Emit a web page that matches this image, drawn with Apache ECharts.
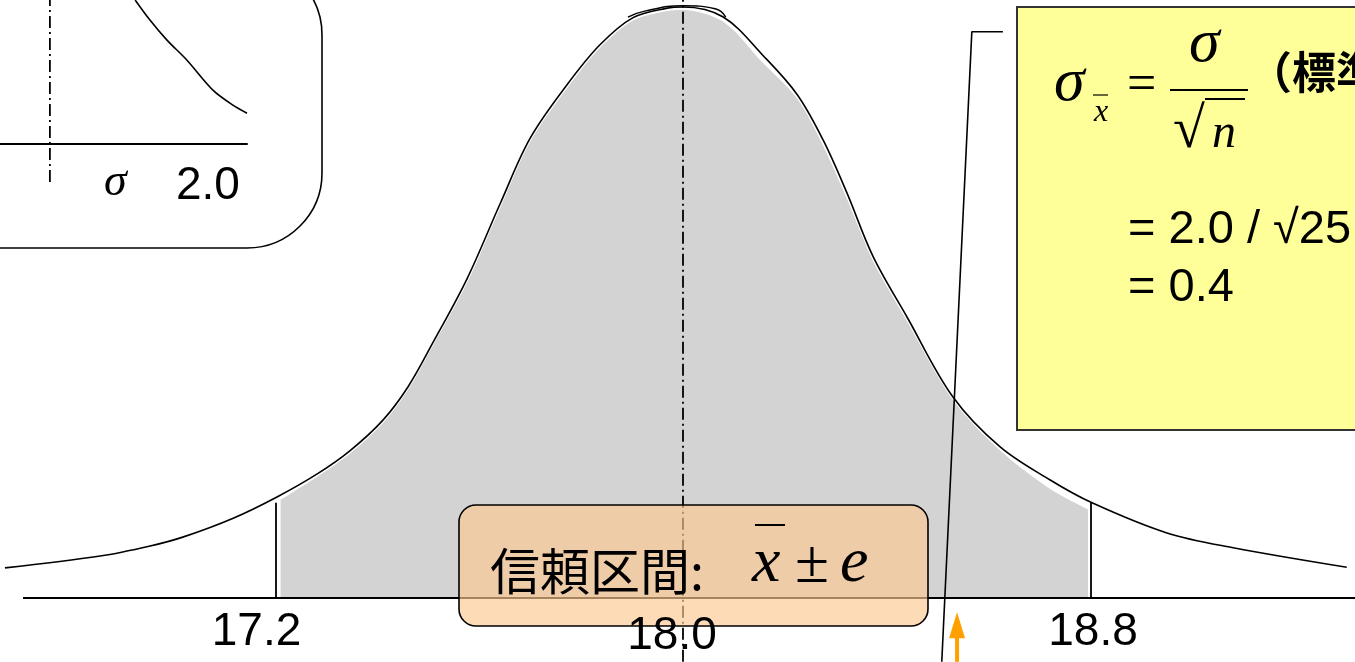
<!DOCTYPE html>
<html><head><meta charset="utf-8">
<script src="https://cdn.jsdelivr.net/npm/echarts/dist/echarts.min.js"></script>
<style>html,body{margin:0;padding:0;background:#fff;overflow:hidden}#c{width:1355px;height:662px}</style>
</head><body><div id="c"></div>
<script>
// ---- data ----
const curveX = [16.669,16.856,16.954,17.018,17.117,17.203,17.282,17.346,17.411,17.460,17.509,17.576,17.641,17.700,17.772,17.837,17.902,17.969,18.000,18.079,18.157,18.224,18.275,18.322,18.373,18.440,18.530,18.622,18.720,18.803,18.950,19.080,19.303];
const curveY = [0.051,0.071,0.088,0.103,0.135,0.171,0.210,0.249,0.301,0.357,0.432,0.540,0.667,0.778,0.868,0.936,0.982,0.998,1.000,0.983,0.918,0.852,0.775,0.685,0.578,0.475,0.340,0.256,0.200,0.161,0.110,0.085,0.052];
const fillX = [17.210,17.282,17.346,17.411,17.460,17.509,17.576,17.641,17.700,17.772,17.837,17.902,17.969,18.000,18.079,18.157,18.224,18.275,18.322,18.373,18.440,18.530,18.622,18.720,18.795];
const fillY = [0.166,0.205,0.244,0.296,0.352,0.427,0.533,0.660,0.772,0.862,0.931,0.977,0.993,0.995,0.975,0.905,0.845,0.765,0.675,0.570,0.468,0.335,0.250,0.185,0.150];
const capX = [17.892,17.925,18.000,18.063,18.084];
const capY = [0.983,0.993,1.002,0.997,0.983];
const tickValues = [17.2, 18.0, 18.8];
const tickLabels = ['17.2', '18.0', '18.8'];
const intervalEdges = [17.2, 18.8];
const edgeHeights = [0.161, 0.161];
const meanValue = 18.0;
const meanRange = [-0.108, 1.0118];
const baselineRange = [16.7043, 19.33];
const connectorX = [18.628, 18.567, 18.508];
const connectorY = [0.958, 0.958, -0.108];
const arrowX = 18.538;
const arrowY = [-0.108, -0.046];
const insetX = [0.547,0.607,0.676,0.757,0.862,0.943,1.0];
const insetY = [1.0,0.86,0.72,0.58,0.371,0.266,0.21];
const insetMean = 0.202;

const zip = (a, b) => a.map((v, i) => [v, b[i]]);
const SERIF = '"Liberation Serif","Times New Roman",serif';
const SANS = '"Liberation Sans",Arial,sans-serif';
const CJK = '"Noto Sans CJK JP","Noto Sans CJK SC",sans-serif';
const dashDot = [12, 4, 2, 4];

const richLabel = {};
const labelPads = [[0, 38, 0, 0], [9, 22, 0, 0], [0, 0, 0, 5]];
labelPads.forEach((p, i) => {
  richLabel['t' + i] = { fontSize: 46, fontFamily: SANS, color: '#000', padding: p, lineHeight: 46 };
});

const chart = echarts.init(document.getElementById('c'), null, { renderer: 'canvas' });

function T(x, y, text, font, opts) {
  return Object.assign({ type: 'text', x: x, y: y, z: 110,
    style: Object.assign({ text: text, font: font, fill: '#000', align: 'left', verticalAlign: 'middle' }, opts || {}) });
}
function L(x1, y1, x2, y2, w, z) {
  return { type: 'line', z: z || 110, shape: { x1: x1, y1: y1, x2: x2, y2: y2 }, style: { stroke: '#000', lineWidth: w || 2 } };
}

const option = {
  backgroundColor: '#fff',
  animation: false,
  grid: [
    { left: -132.04, right: -143.04, top: 0, bottom: 64, containLabel: false, outerBoundsMode: 'none' },
    { left: 0, top: 0, width: 247, height: 182, containLabel: false, outerBoundsMode: 'none' }
  ],
  xAxis: [
    { type: 'value', gridIndex: 0, min: 16.4, max: 19.6, interval: 0.4, z: 120,
      splitLine: { show: false }, axisTick: { show: false },
      axisLine: { show: false, onZero: false },
      axisLabel: { show: true, margin: 11, hideOverlap: false, showMinLabel: true, showMaxLabel: true,
        formatter: function (v) { const i = tickValues.findIndex(t => Math.abs(t - v) < 1e-6); return i < 0 ? '' : '{t' + i + '|' + tickLabels[i] + '}'; },
        rich: richLabel, fontSize: 46, fontFamily: SANS, color: '#000' } },
    { type: 'value', gridIndex: 1, min: 0, max: 1,
      splitLine: { show: false }, axisTick: { show: false }, axisLabel: { show: false },
      axisLine: { show: true, onZero: true, lineStyle: { color: '#000', width: 2 } } }
  ],
  yAxis: [
    { type: 'value', gridIndex: 0, min: 0, max: 1.0118, show: false, splitLine: { show: false } },
    { type: 'value', gridIndex: 1, min: -0.27, max: 1, show: false, splitLine: { show: false } }
  ],
  series: [
    { name: 'fill', type: 'line', xAxisIndex: 0, yAxisIndex: 0, data: zip(fillX, fillY), smooth: 0.3,
      showSymbol: false, silent: true, z: 2, lineStyle: { width: 0, color: '#d3d3d3' },
      areaStyle: { color: '#d3d3d3', opacity: 1 } },
    { name: 'curve', type: 'line', xAxisIndex: 0, yAxisIndex: 0, data: zip(curveX, curveY), smooth: 0.35,
      showSymbol: false, silent: true, clip: false, z: 3, lineStyle: { width: 1.6, color: '#000' },
      markLine: { silent: true, symbol: 'none', label: { show: false },
        data: [
          [{ coord: [baselineRange[0], 0], lineStyle: { color: '#000', width: 2, type: 'solid' } }, { coord: [baselineRange[1], 0] }],
          [{ coord: [intervalEdges[0], 0], lineStyle: { color: '#000', width: 1.8, type: 'solid' } }, { coord: [intervalEdges[0], edgeHeights[0]] }],
          [{ coord: [intervalEdges[1], 0], lineStyle: { color: '#000', width: 1.8, type: 'solid' } }, { coord: [intervalEdges[1], edgeHeights[1]] }]
        ] } },
    { name: 'mean', type: 'line', xAxisIndex: 0, yAxisIndex: 0,
      data: [[meanValue, meanRange[0]], [meanValue, meanRange[1]]],
      showSymbol: false, silent: true, clip: false, z: 3, lineStyle: { width: 1.8, color: '#000', type: dashDot } },
    { name: 'cap', type: 'line', xAxisIndex: 0, yAxisIndex: 0, data: zip(capX, capY), smooth: 0.5,
      showSymbol: false, silent: true, clip: false, z: 3, lineStyle: { width: 1.4, color: '#000' } },
    { name: 'connector', type: 'line', xAxisIndex: 0, yAxisIndex: 0, data: zip(connectorX, connectorY),
      showSymbol: false, silent: true, clip: false, z: 4, lineStyle: { width: 1.6, color: '#000' } },
    { name: 'arrow', type: 'line', xAxisIndex: 0, yAxisIndex: 0, silent: true, clip: false, z: 5,
      showSymbol: true, showAllSymbol: true, color: '#ffa000',
      symbol: function (v, p) { return p.dataIndex === 1 ? 'triangle' : 'none'; },
      symbolSize: [16, 26], symbolKeepAspect: false,
      itemStyle: { color: '#ffa000', borderWidth: 0 },
      lineStyle: { color: '#ffa000', width: 4 },
      data: [[arrowX, arrowY[0]], [arrowX, arrowY[1]]] },
    { name: 'inset', type: 'line', xAxisIndex: 1, yAxisIndex: 1, data: zip(insetX, insetY), smooth: 0.3,
      showSymbol: false, silent: true, clip: false, z: 3, lineStyle: { width: 1.6, color: '#000' } },
    { name: 'insetMean', type: 'line', xAxisIndex: 1, yAxisIndex: 1, data: [[insetMean, -0.27], [insetMean, 1]],
      showSymbol: false, silent: true, clip: false, z: 3, lineStyle: { width: 1.8, color: '#000', type: dashDot } }
  ],
  graphic: [
    // inset box
    { type: 'rect', z: 1, shape: { x: -140, y: -40, width: 462, height: 288, r: 75 }, style: { fill: 'transparent', stroke: '#000', lineWidth: 1.6 } },
    T(104, 183, 'σ', 'italic 46px ' + SERIF),
    T(176, 186, '2.0', '46px ' + SANS),
    // yellow formula box
    { type: 'rect', z: 50, shape: { x: 1017, y: 7, width: 420, height: 423 }, style: { fill: '#ffff99', stroke: '#333', lineWidth: 2 } },
    T(1054, 84, 'σ', 'italic 62px ' + SERIF),
    L(1093, 95, 1108, 95, 1.2),
    T(1094, 113, 'x', 'italic 32px ' + SERIF),
    T(1127, 86, '=', '52px ' + SERIF),
    T(1189, 45, 'σ', 'italic 62px ' + SERIF),
    L(1170, 90, 1248, 90, 2),
    T(1173, 132, '√', '58px ' + SERIF),
    L(1205, 99, 1245, 99, 2),
    T(1212, 134, 'n', 'italic 48px ' + SERIF),
    T(1248, 72, '（標準誤差）', 'bold 44px ' + CJK),
    T(1128, 230, '= 2.0 / √25', '47px ' + SANS),
    T(1128, 288, '= 0.4', '47px ' + SANS),
    // orange label box
    { type: 'rect', z: 100, shape: { x: 459, y: 505, width: 469, height: 121, r: 17 }, style: { fill: 'rgba(253,200,146,0.66)', stroke: '#000', lineWidth: 1.6 } },
    T(490, 571, '信頼区間:', '50px ' + CJK),
    T(752, 564, 'x', 'italic 64px ' + SERIF),
    L(755, 525, 785, 525, 2),
    T(795, 566, '±', '62px ' + SERIF),
    T(840, 564, 'e', 'italic 64px ' + SERIF)
  ]
};
chart.setOption(option);
</script>
</body></html>
